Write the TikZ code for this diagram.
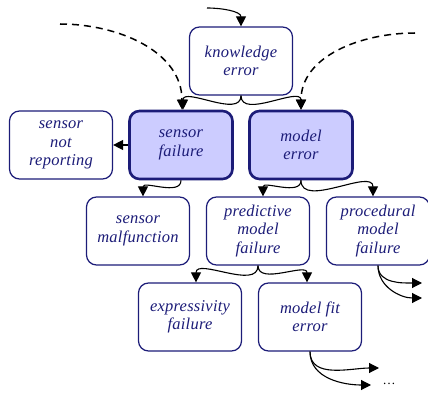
\documentclass[tikz,border=0pt]{standalone}
\usepackage{fontspec}
\setmainfont{Liberation Serif}
\newfontfamily\boxfont[LetterSpace=1.5]{Liberation Serif}
\usetikzlibrary{arrows.meta}
\definecolor{navy}{HTML}{1C1C78}
\definecolor{lav}{HTML}{CCCCFF}
\begin{document}
\begin{tikzpicture}[x=1pt,y=-1pt,
  box/.style={draw=navy,line width=1.2pt,rounded corners=10pt,minimum width=103pt,minimum height=68pt,
    align=center,text=navy,font=\boxfont\fontsize{16.5}{18.5}\selectfont\itshape,inner sep=2pt},
  hbox/.style={box,line width=2.6pt,fill=lav},
  arr/.style={-{Triangle[length=10pt,width=10pt]},line width=1.1pt},
  darr/.style={arr,dash pattern=on 7pt off 5pt,line width=1.5pt}]
\useasboundingbox (0,0) rectangle (428,395);
\node[box] (ke) at (241,61) {knowledge\\error};
\node[box] (snr) at (61,145) {sensor\\not\\reporting};
\node[hbox] (sf) at (181,145) {sensor\\failure};
\node[hbox] (me) at (301,145) {model\\error};
\node[box] (sm) at (138,231) {sensor\\malfunction};
\node[box] (pmf) at (258,231) {predictive\\model\\failure};
\node[box] (prmf) at (378,231) {procedural\\model\\failure};
\node[box] (ef) at (190,317) {expressivity\\failure};
\node[box] (mfe) at (310,317) {model fit\\error};
\node[text=black,font=\fontsize{13}{18}\selectfont] (dots) at (389,384) {\dots};
\coordinate (kin) at (207,8);
\coordinate (dl) at (60,24);
\coordinate (dr) at (415,33);
\coordinate (p1) at (422,283);
\coordinate (p2) at (422,298);
\coordinate (m1) at (379,368);
\coordinate (m2) at (371,385);
\draw[arr] (kin) to[out=0,in=90] (ke.north);
\draw[darr] (dl) to[out=0,in=90] ([xshift=1pt]sf.north);
\draw[darr] (dr) to[out=180,in=90] (me.north);
\draw[arr] (ke.south) to[out=-90,in=90] ([xshift=2pt]sf.north);
\draw[arr] (ke.south) to[out=-90,in=90] (me.north);
\draw[arr] (sf.west) -- (snr.east);
\draw[arr] (sf.south) to[out=-90,in=90] ([xshift=5pt]sm.north);
\draw[arr] (me.south) to[out=-90,in=90] ([xshift=5pt]pmf.north);
\draw[arr] (me.south) to[out=-90,in=90] ([xshift=-5pt]prmf.north);
\draw[arr] (pmf.south) to[out=-90,in=90] ([xshift=6pt]ef.north);
\draw[arr] (pmf.south) to[out=-90,in=90] ([xshift=-3pt]mfe.north);
\draw[arr] (prmf.south) to[out=-90,in=180] (p1);
\draw[arr] (prmf.south) to[out=-90,in=180] (p2);
\draw[arr] (mfe.south) to[out=-90,in=180] (m1);
\draw[arr] (mfe.south) to[out=-90,in=180] (m2);
\end{tikzpicture}
\end{document}
